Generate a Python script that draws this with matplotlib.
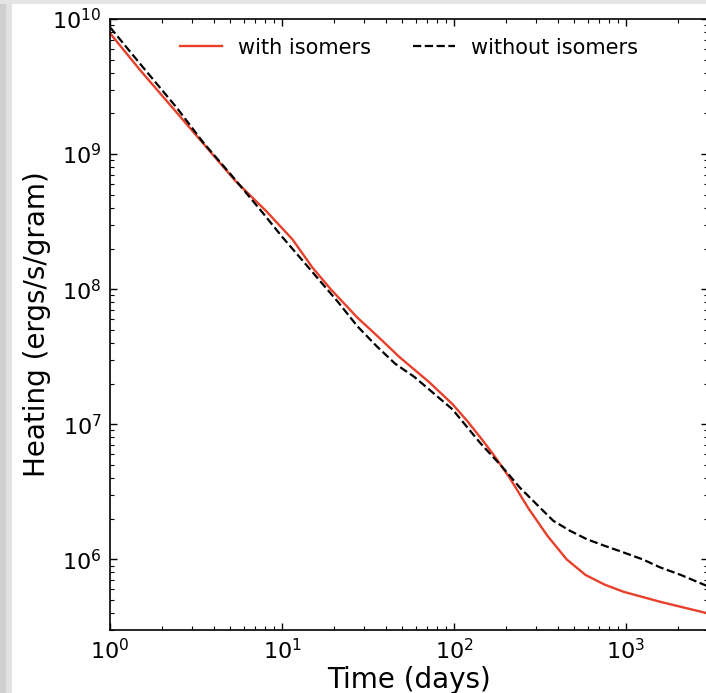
import numpy as np
import matplotlib
matplotlib.use('Agg')
import matplotlib.pyplot as plt
from matplotlib.patches import Rectangle

# with isomers: time (days) and heating (ergs/s/gram)
t_iso = [1, 1.50, 2.32, 3.48, 5.37, 8.07, 11.5, 15.0, 19.2, 27.4, 35.4, 48.0, 72.1,
         98, 120, 147, 172, 210, 272, 350, 452, 582, 752, 970, 1614, 3000]
heat_iso = [7.85e9, 4.17e9, 2.19e9, 1.20e9, 6.31e8, 3.80e8, 2.34e8, 1.45e8, 1.0e8,
            6.17e7, 4.57e7, 3.16e7, 2.04e7, 1.41e7, 1.05e7, 7.59e6, 5.82e6,
            4.04e6, 2.37e6, 1.49e6, 1.0e6, 7.67e5, 6.50e5, 5.75e5, 4.82e5, 3.98e5]

# without isomers
t_noiso = [1, 1.56, 2.44, 3.48, 5.11, 7.67, 10, 12.8, 21.2, 27.5, 35.4, 45.6, 58.9, 98,
           142, 189, 242, 303, 378, 472, 592, 752, 923, 1250, 1578, 2084, 3000]
heat_noiso = [8.69e9, 4.37e9, 2.21e9, 1.22e9, 6.92e8, 3.72e8, 2.45e8, 1.70e8,
              8.02e7, 5.3e7, 3.80e7, 2.8e7, 2.24e7, 1.29e7, 7.28e6, 4.90e6, 3.39e6, 2.55e6,
              1.93e6, 1.63e6, 1.41e6, 1.26e6, 1.15e6, 1.0e6, 8.73e5, 7.67e5, 6.31e5]

fig = plt.figure(figsize=(7.06, 6.93), dpi=100)

# grey screenshot edges
fig.patches.append(Rectangle((0, 0), 6 / 706, 1, transform=fig.transFigure,
                             facecolor='#cfcfcf', edgecolor='none', zorder=0))
fig.patches.append(Rectangle((6 / 706, 0), 6 / 706, 1, transform=fig.transFigure,
                             facecolor='#e2e2e2', edgecolor='none', zorder=0))
fig.patches.append(Rectangle((0, 1 - 4 / 693), 1, 4 / 693, transform=fig.transFigure,
                             facecolor='#e4e4e4', edgecolor='none', zorder=0))

ax = fig.add_axes([110 / 706, 63 / 693, 598 / 706, 611 / 693])

ax.plot(t_iso, heat_iso, color='#e8402a', lw=1.7, label='with isomers')
ax.plot(t_noiso, heat_noiso, color='black', lw=1.6, ls='--', label='without isomers')

ax.set_xscale('log')
ax.set_yscale('log')
ax.set_xlim(1, 3000)
ax.set_ylim(3e5, 1e10)

ax.tick_params(which='both', direction='in', top=True, right=True, labelsize=16, pad=6)
ax.tick_params(which='major', length=5, width=1)
ax.tick_params(which='minor', length=3, width=0.8)
for s in ax.spines.values():
    s.set_linewidth(1.2)

ax.set_xlabel('Time (days)', fontsize=20, labelpad=2)
ax.set_ylabel('Heating (ergs/s/gram)', fontsize=20, labelpad=1)

ax.legend(loc='upper center', frameon=False, ncol=2, fontsize=15,
          handlelength=2.0, columnspacing=2.0)

fig.savefig('out.png', dpi=100)
